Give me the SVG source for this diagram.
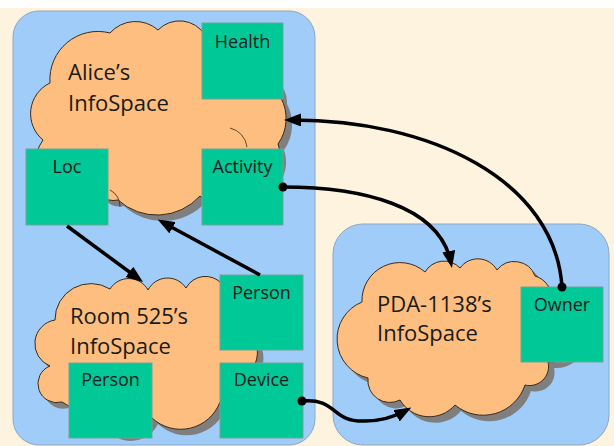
<svg xmlns="http://www.w3.org/2000/svg" width="614" height="446" viewBox="0 0 614 446">
  <style>
    .panel { fill: #A0CCFA; stroke: #8FA6BF; stroke-width: 1; }
    .cloud { fill: #FDBE80; stroke: #3A2A1A; stroke-width: 1; }
    .shadow { fill: #7F7F7F; }
    .crease { fill: none; stroke: #3A2A1A; stroke-width: 0.8; }
    .box { fill: #00C896; stroke: #6FA596; stroke-width: 1; }
    .title { font-family: "Open Sans", "Liberation Sans", sans-serif; font-size: 22px; fill: #1A1A1A; }
    .label { font-family: "Open Sans", "Liberation Sans", sans-serif; font-size: 18px; fill: #1A1A1A; text-anchor: middle; }
    .conn { fill: none; stroke: #000; stroke-width: 3.5; }
    .dot { fill: #000; }
  </style>
  <defs>
    <marker id="arrow" markerUnits="userSpaceOnUse" markerWidth="17" markerHeight="13" refX="12" refY="6.5" orient="auto">
      <path d="M0,0 L17,6.5 L0,13 z" fill="#000"/>
    </marker>
    <path id="alicePath" d="M43,140 A34,34 0 0 1 50,83 A48,48 0 0 1 110,33 A34,34 0 0 1 158,30 A30,30 0 0 1 205,35 A40,40 0 0 1 268,72 A30,30 0 0 1 281,98 A44,44 0 0 1 278,144 A36,36 0 0 1 245,192 A30,30 0 0 1 200,196 A58,58 0 0 1 118,200 A20,20 0 0 1 100,195 A40,40 0 0 1 43,140 Z"/>
    <path id="roomPath" d="M50,366 A24,24 0 0 1 55,320 A36,36 0 0 1 110,289 A22,22 0 0 1 148,290 A22,22 0 0 1 186,288 A22,22 0 0 1 222,284 A40,40 0 0 1 252,335 A30,30 0 0 1 250,372 A30,30 0 0 1 220,402 A42,42 0 0 1 152,418 A30,30 0 0 1 95,405 A30,30 0 0 1 62,402 A19,19 0 0 1 50,366 Z"/>
    <path id="pdaPath" d="M362,302 A38,38 0 0 1 425,272 A22,22 0 0 1 460,268 A22,22 0 0 1 497,270 A22,22 0 0 1 535,276 A24,24 0 0 1 552,300 A30,30 0 0 1 548,362 A19,19 0 0 1 525,385 A44,44 0 0 1 455,405 A34,34 0 0 1 400,400 A22,22 0 0 1 368,378 A40,40 0 0 1 362,302 Z"/>
  </defs>

  <rect x="0" y="0" width="614" height="446" fill="#FDF3DF"/>
  <rect x="0" y="0" width="614" height="8" fill="#FFFFFF"/>

  <g id="panel-left">
    <rect class="panel" x="13" y="11" width="302" height="434" rx="26" ry="26"/>
  </g>
  <g id="panel-right">
    <rect class="panel" x="333" y="224" width="276" height="221" rx="30" ry="30"/>
  </g>

  <g id="alice-infospace">
    <use href="#alicePath" class="shadow" transform="translate(6,6)"/>
    <use href="#alicePath" class="cloud"/>
    <path class="crease" d="M230,128 A22,22 0 0 1 247,147"/>
    <path class="crease" d="M110,190 A18,18 0 0 1 120,207"/>
    <text class="title" x="68" y="80">Alice’s</text>
    <text class="title" x="68" y="111">InfoSpace</text>
  </g>

  <g id="room-infospace">
    <use href="#roomPath" class="shadow" transform="translate(6,6)"/>
    <use href="#roomPath" class="cloud"/>
    <text class="title" x="70" y="324">Room 525’s</text>
    <text class="title" x="70" y="354">InfoSpace</text>
  </g>

  <g id="pda-infospace">
    <use href="#pdaPath" class="shadow" transform="translate(6,6)"/>
    <use href="#pdaPath" class="cloud"/>
    <text class="title" x="377" y="312">PDA-1138’s</text>
    <text class="title" x="377" y="341">InfoSpace</text>
  </g>

  <g id="alice-health">
    <rect class="box" x="202" y="23" width="81" height="76"/>
    <text class="label" x="242.5" y="48">Health</text>
  </g>
  <g id="alice-loc">
    <rect class="box" x="26" y="149" width="82" height="76"/>
    <text class="label" x="67" y="173">Loc</text>
  </g>
  <g id="alice-activity">
    <rect class="box" x="202" y="149" width="81" height="76"/>
    <text class="label" x="242.5" y="173">Activity</text>
  </g>
  <g id="room-person-top">
    <rect class="box" x="220" y="275" width="83" height="75"/>
    <text class="label" x="261.5" y="299">Person</text>
  </g>
  <g id="room-person-bottom">
    <rect class="box" x="69" y="363" width="83" height="75"/>
    <text class="label" x="110.5" y="386">Person</text>
  </g>
  <g id="room-device">
    <rect class="box" x="220" y="363" width="83" height="75"/>
    <text class="label" x="261.5" y="386">Device</text>
  </g>
  <g id="pda-owner">
    <rect class="box" x="521" y="287" width="82" height="75"/>
    <text class="label" x="562" y="311">Owner</text>
  </g>

  <g id="connectors">
    <path class="conn" d="M562,287 C555,180 430,119 289,120" marker-end="url(#arrow)"/>
    <circle class="dot" cx="562" cy="287" r="4.5"/>
    <path class="conn" d="M283,187 C360,187 440,205 451,263" marker-end="url(#arrow)"/>
    <circle class="dot" cx="283" cy="187" r="4.5"/>
    <path class="conn" d="M67,226 L139,279" marker-end="url(#arrow)"/>
    <path class="conn" d="M260,275 L162,222" marker-end="url(#arrow)"/>
    <path class="conn" d="M302,401 C338,398 330,422 365,421 C385,421 398,415 407,410" marker-end="url(#arrow)"/>
    <circle class="dot" cx="302" cy="401" r="4.5"/>
  </g>
</svg>
